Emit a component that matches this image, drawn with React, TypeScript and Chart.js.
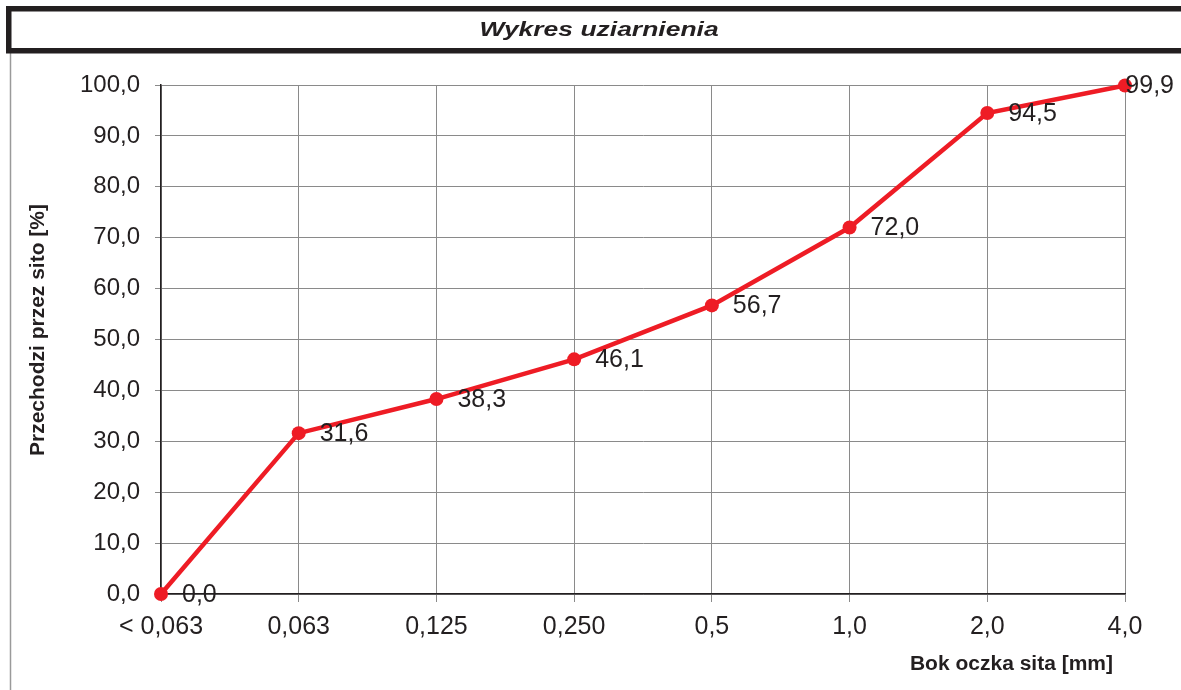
import React, { useEffect, useRef } from "react";
import { Chart, registerables } from "chart.js";

Chart.register(...registerables);

const categories: string[] = ["< 0,063", "0,063", "0,125", "0,250", "0,5", "1,0", "2,0", "4,0"];
const passing: number[] = [0.0, 31.6, 38.3, 46.1, 56.7, 72.0, 94.5, 99.9];
const chartTitle = "Wykres uziarnienia";
const yTitle = "Przechodzi przez sito [%]";
const xTitle = "Bok oczka sita [mm]";

const RED = "#ee1c25";
const TEXT = "#231f20";
const FONT = "'Liberation Sans', Arial, Helvetica, sans-serif";

const fmt = (v: number) => v.toFixed(1).replace(".", ",");

const decorPlugin = {
  id: "decor",
  beforeDraw(chart: any) {
    const ctx = chart.ctx as CanvasRenderingContext2D;
    const W = chart.width;
    const H = chart.height;
    ctx.save();
    ctx.fillStyle = "#ffffff";
    ctx.fillRect(0, 0, W, H);
    ctx.strokeStyle = "#9a9a9a";
    ctx.lineWidth = 1.5;
    ctx.beginPath();
    ctx.moveTo(10.5, 53);
    ctx.lineTo(10.5, H);
    ctx.stroke();
    ctx.strokeStyle = "#231f20";
    ctx.lineWidth = 5.5;
    ctx.strokeRect(8.75, 8.75, W + 20, 42);
    ctx.restore();
  },
  afterDraw(chart: any) {
    const ctx = chart.ctx as CanvasRenderingContext2D;
    const W = chart.width;
    ctx.save();
    ctx.fillStyle = TEXT;
    ctx.font = `italic bold 21px ${FONT}`;
    ctx.textAlign = "center";
    ctx.textBaseline = "middle";
    ctx.save();
    ctx.translate(599, 30);
    ctx.scale(1.26, 1);
    ctx.fillText(chartTitle, 0, 0);
    ctx.restore();
    ctx.font = `bold 20px ${FONT}`;
    ctx.save();
    ctx.translate(38, 330);
    ctx.rotate(-Math.PI / 2);
    ctx.scale(1.05, 1);
    ctx.fillText(yTitle, 0, 0);
    ctx.restore();
    ctx.save();
    ctx.textAlign = "right";
    ctx.translate(1113, 664);
    ctx.scale(1.05, 1);
    ctx.fillText(xTitle, 0, 0);
    ctx.restore();
    const meta = chart.getDatasetMeta(0);
    ctx.font = `25px ${FONT}`;
    ctx.textAlign = "left";
    ctx.textBaseline = "middle";
    meta.data.forEach((pt: any, i: number) => {
      const txt = fmt(passing[i]);
      const w = ctx.measureText(txt).width;
      let x = pt.x + 21;
      if (x + w > W - 7) x = W - 7 - w;
      ctx.fillText(txt, x, pt.y + 1);
    });
    ctx.restore();
  },
};

export default function App() {
  const ref = useRef<HTMLCanvasElement | null>(null);
  useEffect(() => {
    document.body.style.margin = "0";
    if (!ref.current) return;
    const chart = new Chart(ref.current, {
      type: "line",
      data: {
        labels: categories,
        datasets: [
          {
            data: passing,
            borderColor: RED,
            backgroundColor: RED,
            borderWidth: 4.5,
            pointRadius: 7,
            pointBackgroundColor: RED,
            pointBorderColor: RED,
            pointBorderWidth: 0,
            tension: 0,
            clip: false as any,
          },
        ],
      },
      options: {
        animation: false,
        responsive: false,
        devicePixelRatio: 1,
        layout: { padding: { left: 0, top: 85, right: 56, bottom: 0 } },
        plugins: {
          legend: { display: false },
          tooltip: { enabled: false },
          title: { display: false },
        },
        scales: {
          x: {
            type: "category",
            offset: false,
            grid: {
              color: "#8a8a8a",
              lineWidth: 1,
              drawTicks: true,
              tickLength: 8,
            },
            border: { color: "#231f20", width: 1.5 },
            ticks: {
              color: TEXT,
              font: { family: FONT, size: 25 },
              padding: 10,
              maxRotation: 0,
              autoSkip: false,
            },
            afterFit: (s: any) => {
              s.height = 96;
            },
          },
          y: {
            min: 0,
            max: 100,
            grid: {
              color: "#8a8a8a",
              lineWidth: 1,
              drawTicks: true,
              tickLength: 6,
            },
            border: { color: "#231f20", width: 1.5 },
            ticks: {
              stepSize: 10,
              color: TEXT,
              font: { family: FONT, size: 24 },
              padding: 15,
              callback: (v: any) => fmt(Number(v)),
            },
            afterFit: (s: any) => {
              s.width = 161;
            },
          },
        },
      },
      plugins: [decorPlugin],
    });
    return () => chart.destroy();
  }, []);
  return (
    <canvas
      ref={ref}
      width={1181}
      height={690}
      style={{ display: "block", width: 1181, height: 690 }}
    />
  );
}
